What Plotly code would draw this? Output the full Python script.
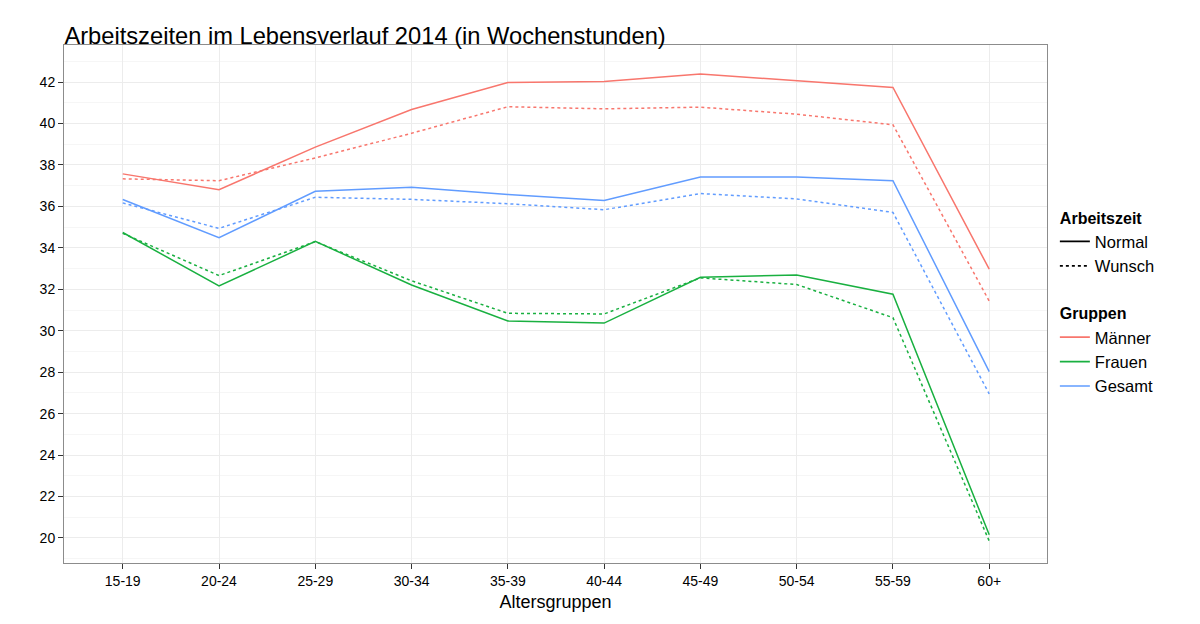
import plotly.graph_objects as go

# Altersgruppen
age_groups = ["15-19", "20-24", "25-29", "30-34", "35-39",
              "40-44", "45-49", "50-54", "55-59", "60+"]

# Wochenstunden, normal vs. gewuenscht
maenner_normal = [37.57, 36.81, 38.86, 40.68, 41.98, 42.03, 42.39, 42.07, 41.74, 32.97]
maenner_wunsch = [37.33, 37.24, 38.34, 39.53, 40.81, 40.71, 40.79, 40.45, 39.94, 31.43]
frauen_normal = [34.74, 32.16, 34.31, 32.21, 30.47, 30.37, 32.58, 32.69, 31.76, 20.15]
frauen_wunsch = [34.70, 32.66, 34.30, 32.41, 30.84, 30.81, 32.55, 32.23, 30.63, 19.85]
gesamt_normal = [36.33, 34.49, 36.73, 36.92, 36.58, 36.29, 37.42, 37.42, 37.24, 28.03]
gesamt_wunsch = [36.17, 34.94, 36.44, 36.34, 36.13, 35.84, 36.62, 36.36, 35.71, 26.95]

groups = [
    ("Männer", "#F8766D", maenner_normal, maenner_wunsch),
    ("Frauen", "#19B040", frauen_normal, frauen_wunsch),
    ("Gesamt", "#619CFF", gesamt_normal, gesamt_wunsch),
]

DASH = "3px,3px"
FONT = "Liberation Sans, Arial, sans-serif"

fig = go.Figure()

for name, color, normal, wunsch in groups:
    fig.add_trace(go.Scatter(x=age_groups, y=normal, mode="lines",
                             line=dict(color=color, width=1.5),
                             showlegend=False, name=name + " Normal"))
    fig.add_trace(go.Scatter(x=age_groups, y=wunsch, mode="lines",
                             line=dict(color=color, width=1.5, dash=DASH),
                             showlegend=False, name=name + " Wunsch"))

# legend-only entries
fig.add_trace(go.Scatter(x=[None], y=[None], mode="lines", name="Normal",
                         line=dict(color="black", width=1.6),
                         legendgroup="arbeitszeit",
                         legendgrouptitle=dict(text="<b>Arbeitszeit</b>")))
fig.add_trace(go.Scatter(x=[None], y=[None], mode="lines", name="Wunsch",
                         line=dict(color="black", width=1.6, dash=DASH),
                         legendgroup="arbeitszeit"))
for i, (name, color, _, _) in enumerate(groups):
    fig.add_trace(go.Scatter(
        x=[None], y=[None], mode="lines", name=name,
        line=dict(color=color, width=1.6), legendgroup="gruppen",
        legendgrouptitle=dict(text="<b>Gruppen</b>") if i == 0 else None))

# the page body adds an 8px offset, so margins are shifted to compensate
fig.update_layout(
    width=1200, height=624,
    margin=dict(l=56, r=161, t=37, b=69),
    paper_bgcolor="white", plot_bgcolor="white",
    font=dict(family=FONT, color="black", size=14),
    title=dict(text="Arbeitszeiten im Lebensverlauf 2014 (in Wochenstunden)",
               x=0.047, xanchor="left", y=0.956, yanchor="middle",
               font=dict(size=23.7, color="black")),
    legend=dict(x=1.008, xanchor="left", y=0.70, yanchor="top",
                tracegroupgap=23, itemwidth=30,
                font=dict(size=16.5), grouptitlefont=dict(size=16)),
    xaxis=dict(
        type="category", range=[-0.61, 9.6],
        showgrid=True, gridcolor="#ECECEC", gridwidth=1,
        ticks="outside", ticklen=5, tickcolor="#333333",
        tickfont=dict(size=14, color="black"),
        showline=True, linecolor="#8C8C8C", mirror=True,
        zeroline=False,
        title=dict(text="Altersgruppen", font=dict(size=18), standoff=7),
    ),
    yaxis=dict(
        range=[18.79, 43.79], tick0=20, dtick=2,
        showgrid=True, gridcolor="#ECECEC", gridwidth=1,
        minor=dict(tick0=21, dtick=2, showgrid=True,
                   gridcolor="#F6F6F6", gridwidth=1),
        ticks="outside", ticklen=5, tickcolor="#333333",
        tickfont=dict(size=14, color="black"),
        showline=True, linecolor="#8C8C8C", mirror=True,
        zeroline=False,
    ),
)

fig.write_html("out.html")
